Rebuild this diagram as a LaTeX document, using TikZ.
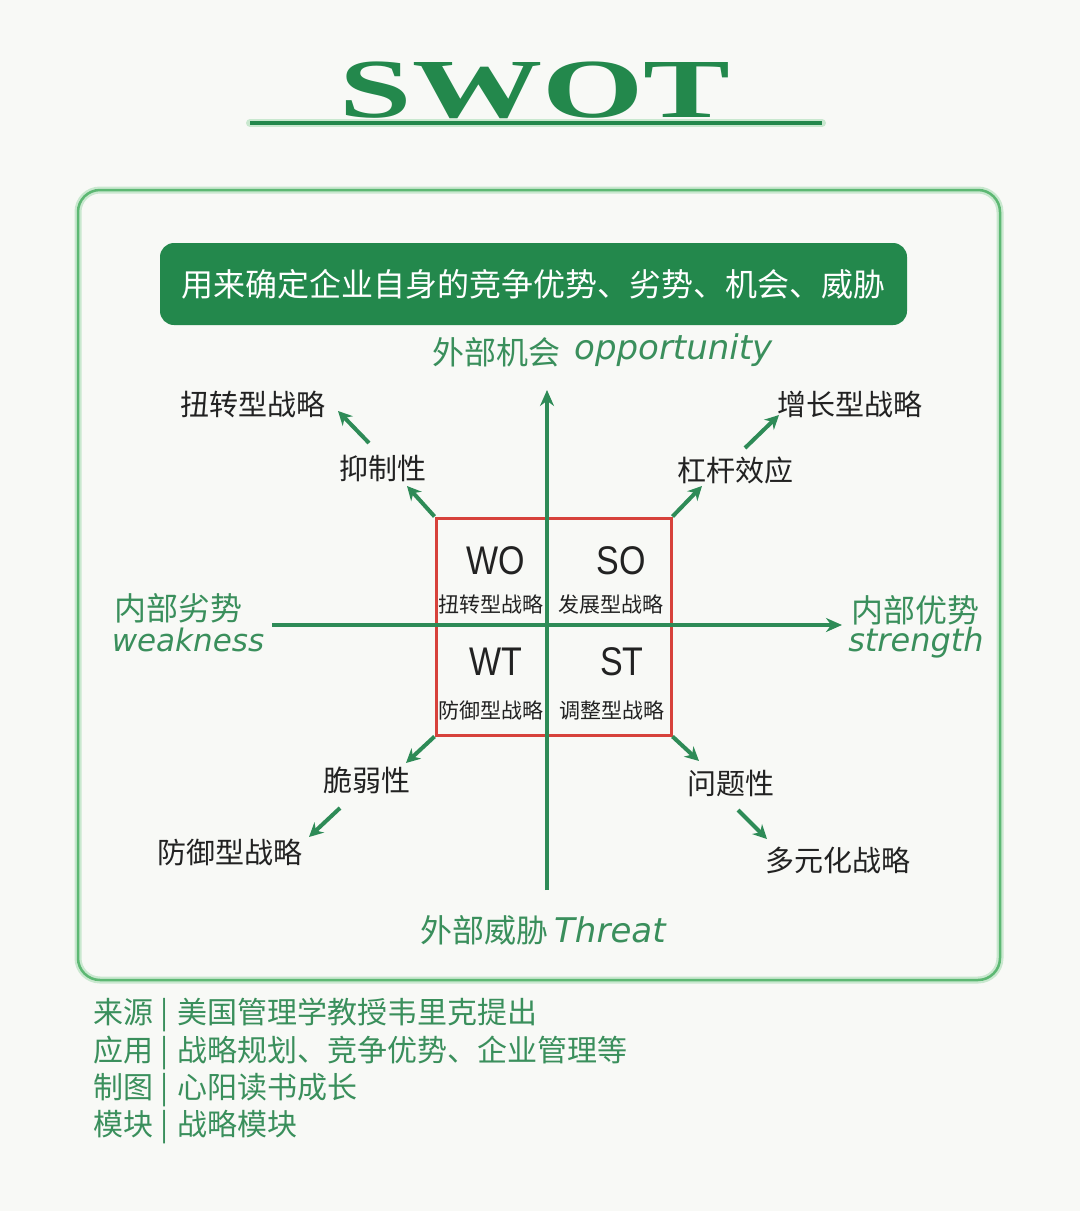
\documentclass[tikz,border=0pt]{standalone}
\usepackage{fontspec}
\setmainfont{Liberation Sans}
\newfontfamily\cjk{Noto Sans CJK SC}
\newfontfamily\titlefont{Liberation Serif}
\newfontfamily\hand{DejaVu Sans}
\usetikzlibrary{arrows.meta}
\definecolor{bgc}{HTML}{F8F9F6}
\definecolor{swg}{HTML}{23884C}
\definecolor{frameg}{HTML}{5DB873}
\definecolor{paleg}{HTML}{C9E8CF}
\definecolor{axisg}{HTML}{2E8B57}
\definecolor{labg}{HTML}{3A8F5C}
\definecolor{sqred}{HTML}{D7423B}
\definecolor{ink}{HTML}{222222}
\newcommand{\fbar}{\hspace{7pt}|\hspace{9pt}}
\tikzset{
  cn/.style={font=\cjk\fontsize{#1}{#1}\selectfont, text=ink, inner sep=0pt},
  gl/.style={font=\cjk\fontsize{32}{34}\selectfont, text=labg, inner sep=0pt},
  hl/.style={font=\hand\itshape\fontsize{#1}{34}\selectfont, text=labg, inner sep=0pt},
  ft/.style={font=\cjk\fontsize{30}{32}\selectfont, text=labg, inner sep=0pt, anchor=west},
  big/.style={font=\fontsize{40}{40}\selectfont, text=ink, inner sep=0pt, xscale=0.85},
  arr/.style={draw=axisg, line width=4pt, -{Stealth[length=14pt,width=14pt]}},
  axis/.style={draw=axisg, line width=3.5pt, -{Stealth[length=16pt,width=14pt]}}
}
\begin{document}
\begin{tikzpicture}[x=1pt,y=-1pt]
\fill[bgc] (0,0) rectangle (1080,1211);
\useasboundingbox (0,0) rectangle (1080,1211);
% title
\node[font=\titlefont\bfseries\fontsize{84}{84}\selectfont, text=swg, xscale=1.55, inner sep=0pt] (title) at (535,90) {SWOT};
\coordinate (ul) at (250,123);
\coordinate (ur) at (822,123);
\draw[paleg, line width=8pt, line cap=round] (ul) -- (ur);
\draw[swg, line width=4pt] (ul) -- (ur);
% frame
\draw[paleg, line width=7pt, rounded corners=22pt] (78,190) rectangle (1000,980);
\draw[frameg, line width=2.5pt, rounded corners=22pt] (78,190) rectangle (1000,980);
% banner
\node[fill=swg, rounded corners=14pt, minimum width=747pt, minimum height=82pt, inner sep=0pt,
  font=\cjk\fontsize{32}{34}\selectfont, text=white] (banner) at (533.5,284)
  {用来确定企业自身的竞争优势、劣势、机会、威胁};
% red square
\node[draw=sqred, line width=3pt, minimum width=235pt, minimum height=217pt, inner sep=0pt] (sq) at (553.5,626.5) {};
% axes
\coordinate (vb) at (547,890);
\coordinate (vt) at (547,390);
\coordinate (hlft) at (272,625);
\coordinate (hrt) at (842,625);
\draw[axis] (vb) -- (vt);
\draw[axis] (hlft) -- (hrt);
% quadrant texts
\node[big] (wo) at (496,561) {WO};
\node[big] (so) at (621,561) {SO};
\node[big] (wt) at (496,662) {WT};
\node[big] (st) at (622,662) {ST};
\node[cn=21] (wos) at (491,604) {扭转型战略};
\node[cn=21] (sos) at (611,604) {发展型战略};
\node[cn=21] (wts) at (491,710) {防御型战略};
\node[cn=21] (sts) at (612,710) {调整型战略};
% axis labels
\node[gl, anchor=west] (opcn) at (432,352) {外部机会};
\node[hl=34, anchor=west] (op) at (574,350) {opportunity};
\node[gl] (wkcn) at (178,608) {内部劣势};
\node[hl=31] (wk) at (188,640) {weakness};
\node[gl] (stcn) at (915,610) {内部优势};
\node[hl=32] (str) at (916,643) {strength};
\node[gl, anchor=west] (thcn) at (420,930) {外部威胁};
\node[hl=34, anchor=west] (th) at (554,930) {Threat};
% diagonal labels
\node[cn=29] (l1) at (383,468) {抑制性};
\node[cn=29] (l2) at (253,404) {扭转型战略};
\node[cn=29] (r1) at (735,470) {杠杆效应};
\node[cn=29] (r2) at (850,404) {增长型战略};
\node[cn=29] (bl1) at (367,780) {脆弱性};
\node[cn=29] (bl2) at (230,852) {防御型战略};
\node[cn=29] (br1) at (731,783) {问题性};
\node[cn=29] (br2) at (838,860) {多元化战略};
% arrow end points
\coordinate (a1) at (407,486);
\coordinate (a2s) at (369,443);
\coordinate (a2) at (338,411);
\coordinate (b1) at (702,486);
\coordinate (b2s) at (745,448);
\coordinate (b2) at (779,415);
\coordinate (c1) at (406,763);
\coordinate (c2s) at (340,808);
\coordinate (c2) at (309,837);
\coordinate (d1) at (699,761);
\coordinate (d2s) at (738,810);
\coordinate (d2) at (767,839);
\draw[arr] (sq.north west) -- (a1);
\draw[arr] (a2s) -- (a2);
\draw[arr] (sq.north east) -- (b1);
\draw[arr] (b2s) -- (b2);
\draw[arr] (sq.south west) -- (c1);
\draw[arr] (c2s) -- (c2);
\draw[arr] (sq.south east) -- (d1);
\draw[arr] (d2s) -- (d2);
% footer
\node[ft] (f1) at (93,1015) {来源\fbar 美国管理学教授韦里克提出};
\node[ft] (f2) at (93,1053) {应用\fbar 战略规划、竞争优势、企业管理等};
\node[ft] (f3) at (93,1090) {制图\fbar 心阳读书成长};
\node[ft] (f4) at (93,1127) {模块\fbar 战略模块};
\end{tikzpicture}
\end{document}
